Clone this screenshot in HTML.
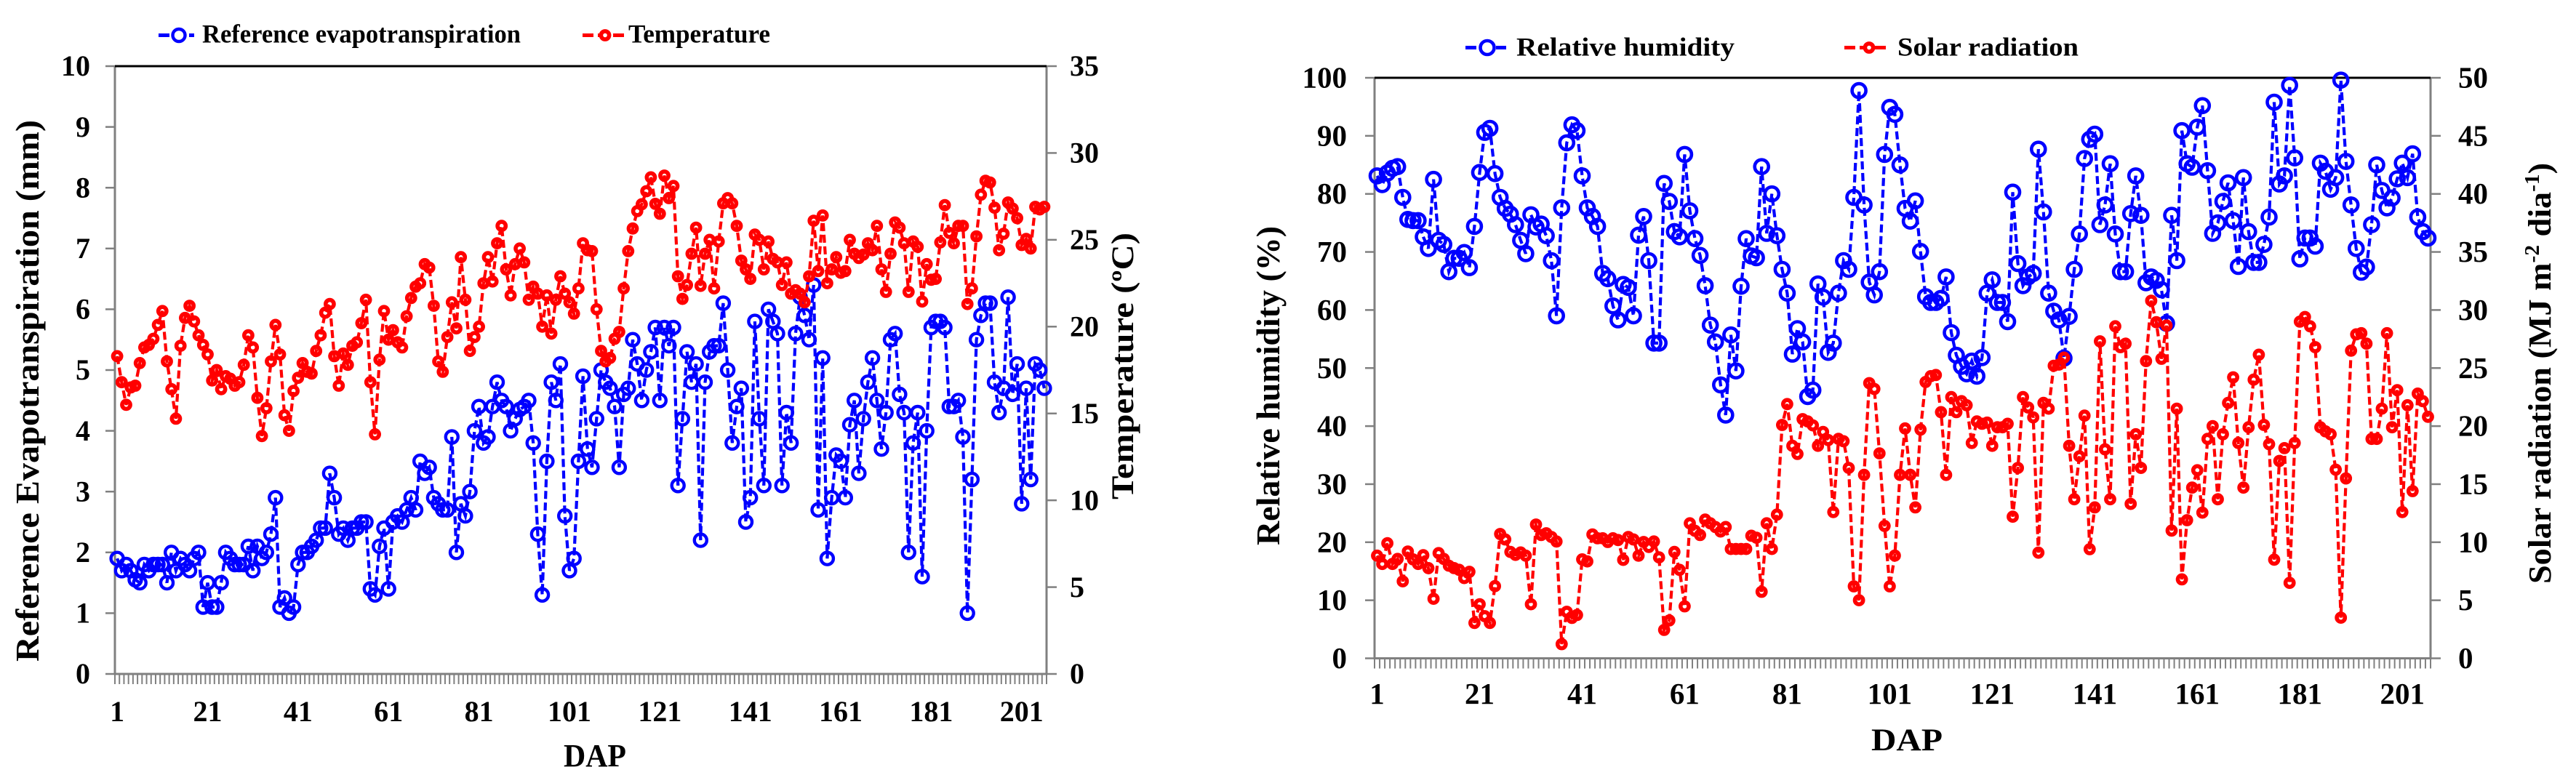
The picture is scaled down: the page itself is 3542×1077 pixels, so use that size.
<!DOCTYPE html>
<html>
<head>
<meta charset="utf-8">
<title>Weather variables by DAP</title>
<style>
html,body{margin:0;padding:0;background:#fff;width:3542px;height:1077px;overflow:hidden}
svg{display:block}
text{font-family:"Liberation Serif",serif;font-weight:bold;fill:#000}
</style>
</head>
<body>
<svg id="figure" xmlns="http://www.w3.org/2000/svg" width="3542" height="1077" viewBox="0 0 3542 1077"></svg>
<script>
const evapotranspiration = [
1.9,1.7,1.8,1.7,1.55,1.5,1.8,1.7,1.8,1.8,
1.8,1.5,2.0,1.7,1.9,1.8,1.7,1.9,2.0,1.1,
1.5,1.1,1.1,1.5,2.0,1.9,1.8,1.8,1.8,2.1,
1.7,2.1,1.9,2.0,2.3,2.9,1.1,1.25,1.0,1.1,
1.8,2.0,2.0,2.1,2.2,2.4,2.4,3.3,2.9,2.3,
2.4,2.2,2.4,2.4,2.5,2.5,1.4,1.3,2.1,2.4,
1.4,2.5,2.6,2.5,2.7,2.9,2.7,3.5,3.3,3.4,
2.9,2.8,2.7,2.7,3.9,2.0,2.8,2.6,3.0,4.0,
4.4,3.8,3.9,4.4,4.8,4.5,4.4,4.0,4.2,4.35,
4.4,4.5,3.8,2.3,1.3,3.5,4.8,4.5,5.1,2.6,
1.7,1.9,3.5,4.9,3.7,3.4,4.2,5.0,4.8,4.7,
4.4,3.4,4.6,4.7,5.5,5.1,4.5,5.0,5.3,5.7,
4.5,5.7,5.4,5.7,3.1,4.2,5.3,4.8,5.1,2.2,
4.8,5.3,5.4,5.4,6.1,5.0,3.8,4.4,4.7,2.5,
2.9,5.8,4.2,3.1,6.0,5.8,5.6,3.1,4.3,3.8,
5.6,6.2,5.9,5.5,6.4,2.7,5.2,1.9,2.9,3.6,
3.5,2.9,4.1,4.5,3.3,4.2,4.8,5.2,4.5,3.7,
4.3,5.5,5.6,4.6,4.3,2.0,3.8,4.3,1.6,4.0,
5.7,5.8,5.8,5.7,4.4,4.4,4.5,3.9,1.0,3.2,
5.5,5.9,6.1,6.1,4.8,4.3,4.7,6.2,4.6,5.1,
2.8,4.7,3.2,5.1,5.0,4.7];

const temperature = [
18.3,16.8,15.5,16.5,16.6,17.9,18.8,18.95,19.3,20.1,
20.9,18.0,16.4,14.7,18.9,20.5,21.2,20.3,19.5,18.95,
18.4,16.9,17.5,16.4,17.15,17.0,16.6,16.8,17.8,19.5,
18.8,15.9,13.7,15.3,18.0,20.1,18.4,14.9,14.0,16.3,
17.05,17.9,17.4,17.3,18.6,19.5,20.8,21.3,18.3,16.6,
18.45,17.8,18.9,19.1,20.2,21.55,16.8,13.8,18.1,20.9,
19.25,19.8,19.1,18.8,20.6,21.65,22.3,22.5,23.6,23.4,
21.2,18.0,17.4,19.4,21.4,19.9,24.0,21.55,18.6,19.4,
20.0,22.5,24.0,22.6,24.8,25.8,23.3,21.8,23.6,24.5,
23.7,21.55,22.3,21.9,20.0,21.8,19.6,21.55,22.9,21.9,
21.4,20.75,22.2,24.8,24.4,24.35,21.0,18.6,18.0,18.2,
19.3,19.7,22.2,24.35,25.65,26.65,27.05,27.8,28.6,27.07,
26.5,28.7,27.4,28.1,22.9,21.6,22.4,24.2,25.7,22.35,
24.2,25.0,22.2,24.9,27.1,27.4,27.1,25.8,23.8,23.3,
22.75,25.3,25.0,23.3,24.9,23.9,23.7,22.4,23.7,21.9,
22.1,21.9,21.4,22.9,26.1,23.2,26.4,22.5,23.3,24.0,
23.1,23.2,25.0,24.2,23.95,24.15,24.8,24.4,25.8,23.3,
22.0,24.2,26.0,25.7,24.8,22.0,24.9,24.6,21.45,23.6,
22.7,22.75,24.85,27.0,25.4,24.8,25.8,25.8,21.3,22.2,
25.2,27.6,28.4,28.3,26.85,24.4,25.35,27.15,26.8,26.25,
24.7,25.05,24.5,26.9,26.75,26.9];

const relativeHumidity = [
83.1,81.6,83.6,84.4,84.7,79.4,75.6,75.4,75.4,72.6,
70.6,82.5,72.0,71.3,66.6,68.9,68.9,69.9,67.3,74.4,
83.7,90.6,91.3,83.5,79.4,77.5,76.5,74.7,72.0,69.7,
76.4,74.3,74.8,72.8,68.5,59.0,77.6,88.8,91.9,90.9,
83.1,77.6,76.1,74.4,66.3,65.4,60.7,58.3,64.4,63.9,
59.0,72.9,76.1,68.5,54.3,54.3,81.8,78.7,73.5,72.6,
86.8,77.1,72.3,69.4,64.2,57.4,54.5,47.1,41.9,55.7,
49.5,64.1,72.3,69.3,69.0,84.7,73.2,80.0,72.8,67.0,
62.9,52.4,56.8,54.5,45.1,46.2,64.5,62.2,52.7,54.3,
62.9,68.5,67.0,79.4,97.8,78.1,64.8,62.6,66.6,86.8,
94.9,93.7,85.0,77.5,75.3,78.8,70.1,62.3,61.3,61.3,
62.0,65.7,56.1,52.2,50.3,49.0,51.2,48.6,51.8,62.9,
65.2,61.3,61.3,58.0,80.3,68.0,64.2,65.7,66.3,87.7,
76.9,62.9,59.8,58.3,51.7,58.9,67.0,73.1,86.1,89.4,
90.3,74.7,78.1,85.2,73.1,66.6,66.6,76.6,83.1,76.3,
64.7,65.7,65.1,63.5,57.7,76.3,68.5,90.9,85.2,84.6,
91.5,95.2,84.0,73.2,75.0,78.7,81.9,75.4,67.5,82.8,
73.5,68.2,68.2,71.3,76.0,95.8,81.7,83.1,98.7,86.2,
68.8,72.4,72.4,71.0,85.3,83.9,80.8,82.8,99.6,85.6,
78.1,70.6,66.5,67.4,74.7,85.0,80.6,77.6,79.3,82.6,
85.3,82.8,86.9,76.0,73.5,72.4];

const solarRadiation = [
8.84,8.13,9.91,8.13,8.56,6.63,9.2,8.52,8.13,8.88,
7.77,5.13,9.06,8.56,7.98,7.77,7.62,6.91,7.45,3.05,
4.66,3.63,3.05,6.22,10.71,10.24,9.16,8.91,9.12,8.84,
4.66,11.52,10.62,10.77,10.45,10.06,1.22,4.01,3.48,3.73,
8.52,8.35,10.67,10.34,10.34,10.02,10.34,10.19,8.48,10.45,
10.24,8.84,10.02,9.59,10.06,8.69,2.45,3.26,9.16,7.62,
4.48,11.63,10.99,10.62,11.95,11.63,11.31,10.92,11.31,9.42,
9.42,9.42,9.42,10.56,10.39,5.73,11.63,9.42,12.38,20.1,
21.9,18.3,17.6,20.6,20.4,20.06,18.3,19.5,18.8,12.6,
18.9,18.7,16.4,6.2,5.0,15.8,23.7,23.2,17.65,11.4,
6.2,8.85,15.8,19.8,15.8,13.0,19.7,23.8,24.3,24.4,
21.2,15.8,22.5,21.2,22.15,21.8,18.55,20.4,20.2,20.3,
18.3,19.9,19.9,20.2,12.2,16.4,22.5,21.6,20.75,9.1,
22.0,21.5,25.2,25.3,25.9,18.3,13.7,17.4,20.9,9.4,
13.0,27.3,18.0,13.7,28.6,26.8,27.1,13.3,19.3,16.4,
25.6,30.8,28.95,25.8,28.66,11.0,21.5,6.8,11.9,14.7,
16.2,12.55,18.9,20.0,13.7,19.3,22.0,24.2,18.55,14.7,
19.9,24.0,26.15,20.1,18.45,8.5,17.0,18.1,6.5,18.55,
29.0,29.4,28.6,26.8,19.9,19.55,19.3,16.25,3.5,15.5,
26.5,27.9,28.0,27.1,18.9,18.9,21.5,28.0,19.9,23.1,
12.6,21.8,14.4,22.8,22.15,20.8];

const dapCount = 206;
const dapTickLabels = [1,21,41,61,81,101,121,141,161,181,201];
const etTicks = [0,1,2,3,4,5,6,7,8,9,10];
const tempTicks = [0,5,10,15,20,25,30,35];
const rhTicks = [0,10,20,30,40,50,60,70,80,90,100];
const solarTicks = [0,5,10,15,20,25,30,35,40,45,50];

const NS = 'http://www.w3.org/2000/svg';
const figure = document.getElementById('figure');
function make(tag, attrs, parent) {
  const n = document.createElementNS(NS, tag);
  for (const k in attrs) n.setAttribute(k, attrs[k]);
  parent.appendChild(n);
  return n;
}

function drawSeries(root, values, xFn, yFn, color, dash, width, r, sw, name) {
  const pts = values.map((v, i) => xFn(i).toFixed(1) + ',' + yFn(v).toFixed(1)).join(' ');
  const line = make('polyline', {points: pts, fill: 'none', stroke: color, 'stroke-width': width, 'stroke-dasharray': dash}, root);
  
  
  values.forEach((v, i) => {
    const c = make('circle', {cx: xFn(i).toFixed(1), cy: yFn(v).toFixed(1), r: r, fill: 'none', stroke: color, 'stroke-width': sw}, root);
    
    
  });
}

function drawChart(c) {
  const g = make('g', {}, figure);
  
  
  const step = (c.right - c.left) / dapCount;
  const xFn = i => c.left + (i + 0.5) * step;
  const yL = v => c.bottom - v / c.leftMax * (c.bottom - c.top);
  const yR = v => c.bottom - v / c.rightMax * (c.bottom - c.top);
  const gray = '#808080';

  for (let i = 0; i <= dapCount; i++) {
    const tx = c.left + i * step;
    const t = make('line', {x1: tx, x2: tx, y1: c.bottom, y2: c.bottom + 14, stroke: gray, 'stroke-width': 2}, g);
    
    
  }
  const ax = make('path', {d: `M${c.left} ${c.top}V${c.bottom}H${c.right}V${c.top}`, fill: 'none', stroke: gray, 'stroke-width': 3}, g);
  
  
  const topLine = make('line', {x1: c.left, x2: c.right, y1: c.top, y2: c.top, stroke: '#000', 'stroke-width': 3}, g);
  
  

  c.leftTicks.forEach(v => {
    const t = make('line', {x1: c.left - 13, x2: c.left, y1: yL(v), y2: yL(v), stroke: gray, 'stroke-width': 2.5}, g);
    
    
    const l = make('text', {x: c.leftLabelX, y: yL(v) + c.tickFont * 0.33, 'text-anchor': 'end', 'font-size': c.tickFont}, g);
    l.textContent = v;
    
    
  });
  c.rightTicks.forEach(v => {
    const t = make('line', {x1: c.right, x2: c.right + 14, y1: yR(v), y2: yR(v), stroke: gray, 'stroke-width': 2.5}, g);
    
    
    const l = make('text', {x: c.rightLabelX, y: yR(v) + c.tickFont * 0.33, 'font-size': c.tickFont}, g);
    l.textContent = v;
    
    
  });
  dapTickLabels.forEach(d => {
    const l = make('text', {x: xFn(d - 1), y: c.xLabelY, 'text-anchor': 'middle', 'font-size': c.tickFont}, g);
    l.textContent = d;
    
    
  });

  const dash = '11 5';
  drawSeries(g, c.blueValues, xFn, yL, '#0000ff', dash, 4.2, c.blueR, c.blueSW, c.blueName);
  drawSeries(g, c.redValues, xFn, yR, '#ff0000', dash, 4.2, 5.6, 5.6, c.redName);
}

drawChart({
  name: 'evapotranspiration-temperature-chart',
  left: 158, right: 1439, top: 91, bottom: 927,
  leftMax: 10, rightMax: 35,
  leftTicks: etTicks, rightTicks: tempTicks,
  leftLabelX: 124, rightLabelX: 1471, xLabelY: 992, tickFont: 40,
  blueValues: evapotranspiration, redValues: temperature,
  blueR: 8.5, blueSW: 4.4, blueName: 'evapotranspiration', redName: 'temperature'
});
drawChart({
  name: 'humidity-solar-chart',
  left: 1890, right: 3342, top: 107, bottom: 905.5,
  leftMax: 100, rightMax: 50,
  leftTicks: rhTicks, rightTicks: solarTicks,
  leftLabelX: 1852, rightLabelX: 3380, xLabelY: 968, tickFont: 41,
  blueValues: relativeHumidity, redValues: solarRadiation,
  blueR: 9.5, blueSW: 4.6, blueName: 'relative-humidity', redName: 'solar-radiation'
});

function legendEntry(x1, x2, mx, my, color, r, sw, name) {
  const l = make('line', {x1: x1, x2: x2, y1: my, y2: my, stroke: color, 'stroke-width': 5, 'stroke-dasharray': '15 6'}, figure);
  
  
  const c = make('circle', {cx: mx, cy: my, r: r, fill: '#fff', stroke: color, 'stroke-width': sw}, figure);
  
  
}
legendEntry(218, 267, 246, 48.5, '#0000ff', 8.5, 4.4, 'evapotranspiration');
legendEntry(801, 860, 832, 48.5, '#ff0000', 5.6, 5.6, 'temperature');
legendEntry(2015, 2071, 2045, 65.5, '#0000ff', 9.5, 4.6, 'relative-humidity');
legendEntry(2536, 2594, 2570, 65.5, '#ff0000', 5.6, 5.6, 'solar-radiation');
</script>

<svg xmlns="http://www.w3.org/2000/svg" width="3542" height="1077" viewBox="0 0 3542 1077" style="position:absolute;left:0;top:0">
  <text x="278" y="58.5" font-size="36" textLength="438" lengthAdjust="spacingAndGlyphs">Reference evapotranspiration</text>
  <text x="864" y="58.5" font-size="36" textLength="195" lengthAdjust="spacingAndGlyphs">Temperature</text>
  <text x="2085" y="76.5" font-size="36" textLength="300" lengthAdjust="spacingAndGlyphs">Relative humidity</text>
  <text x="2609" y="76.5" font-size="36" textLength="249" lengthAdjust="spacingAndGlyphs">Solar radiation</text>

  <text x="775" y="1054" font-size="44" textLength="86" lengthAdjust="spacingAndGlyphs">DAP</text>
  <text x="2573" y="1032" font-size="43" textLength="98" lengthAdjust="spacingAndGlyphs">DAP</text>

  <text transform="translate(53,910) rotate(-90)" font-size="45" textLength="745" lengthAdjust="spacingAndGlyphs">Reference Evapotranspiration (mm)</text>
  <text transform="translate(1558,687) rotate(-90)" font-size="43" textLength="367" lengthAdjust="spacingAndGlyphs">Temperature (ºC)</text>
  <text transform="translate(1759,750) rotate(-90)" font-size="46" textLength="439" lengthAdjust="spacingAndGlyphs">Relative humidity (%)</text>
  <text transform="translate(3507,803) rotate(-90)" font-size="44" textLength="579" lengthAdjust="spacingAndGlyphs">Solar radiation (MJ m<tspan dy="-16" font-size="28">-2</tspan><tspan dy="16"> dia</tspan><tspan dy="-16" font-size="28">-1</tspan><tspan dy="16">)</tspan></text>
</svg>
</body>
</html>
